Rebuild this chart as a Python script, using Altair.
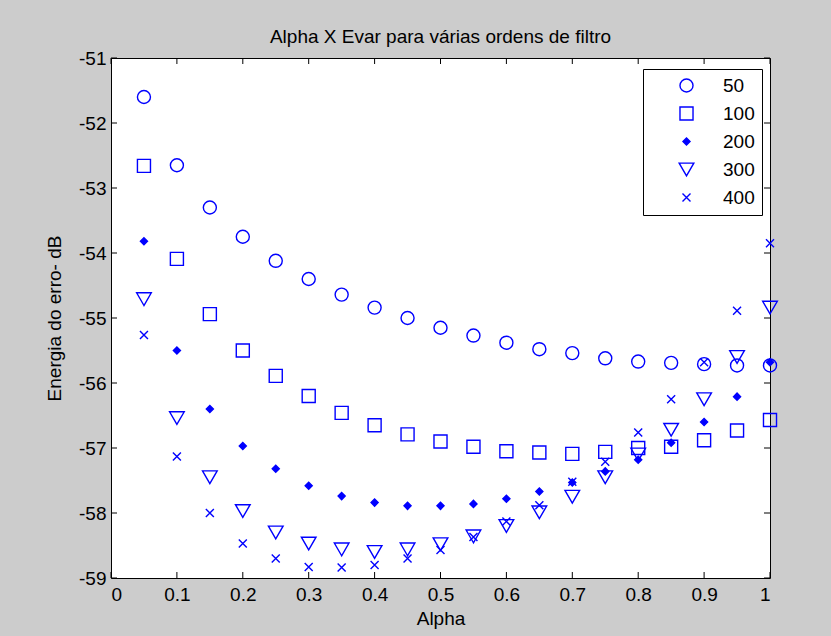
import altair as alt
import pandas as pd

alpha = [0.05, 0.10, 0.15, 0.20, 0.25, 0.30, 0.35, 0.40, 0.45, 0.50,
         0.55, 0.60, 0.65, 0.70, 0.75, 0.80, 0.85, 0.90, 0.95, 1.00]

ordens = ["50", "100", "200", "300", "400"]

e50 = [-51.60, -52.65, -53.30, -53.75, -54.12, -54.40, -54.64, -54.84, -55.00, -55.15,
       -55.27, -55.38, -55.48, -55.54, -55.62, -55.67, -55.69, -55.71, -55.73, -55.73]
e100 = [-52.66, -54.09, -54.94, -55.50, -55.89, -56.20, -56.46, -56.65, -56.79, -56.90,
        -56.98, -57.05, -57.07, -57.09, -57.06, -57.00, -56.98, -56.88, -56.73, -56.57]
e200 = [-53.82, -55.50, -56.40, -56.97, -57.32, -57.58, -57.74, -57.84, -57.89, -57.89,
        -57.86, -57.78, -57.67, -57.53, -57.36, -57.18, -56.92, -56.60, -56.21, -55.68]
e300 = [-54.71, -56.54, -57.45, -57.97, -58.30, -58.47, -58.56, -58.60, -58.56, -58.48,
        -58.36, -58.20, -57.99, -57.75, -57.45, -57.10, -56.72, -56.25, -55.60, -54.84]
e400 = [-55.26, -57.13, -58.00, -58.47, -58.70, -58.83, -58.84, -58.80, -58.70, -58.57,
        -58.37, -58.13, -57.88, -57.52, -57.21, -56.76, -56.25, -55.68, -54.89, -53.85]

x_ticks = [0, 0.1, 0.2, 0.3, 0.4, 0.5, 0.6, 0.7, 0.8, 0.9, 1]
y_ticks = [-59, -58, -57, -56, -55, -54, -53, -52, -51]

series = [e50, e100, e200, e300, e400]
rows = []
for ordem, vals in zip(ordens, series):
    for a, v in zip(alpha, vals):
        rows.append({"alpha": a, "erro": v, "ordem": ordem})
df = pd.DataFrame(rows)
dfx = pd.DataFrame({"t": x_ticks})
dfy = pd.DataFrame({"t": y_ticks})

W, H = 659, 520
BLUE = "#0000ff"
FONT = "Liberation Sans"
FS = 19

xscale = alt.Scale(domain=[0, 1], nice=False, zero=False)
yscale = alt.Scale(domain=[-59, -51], nice=False, zero=False)

xpath = "M-1,-1L1,1M-1,1L1,-1"

points = alt.Chart(df).mark_point(filled=False, strokeWidth=1.4, opacity=1).encode(
    x=alt.X("alpha:Q", scale=xscale,
            axis=alt.Axis(values=x_ticks, format="~g", title="Alpha", grid=False,
                          domain=False, ticks=False, labelPadding=7, titlePadding=5,
                          labelFontSize=FS, titleFontSize=FS, labelFont=FONT, titleFont=FONT,
                          titleFontWeight="normal", labelColor="black", titleColor="black")),
    y=alt.Y("erro:Q", scale=yscale,
            axis=alt.Axis(values=y_ticks, labelExpr="datum.value + ''", title="Energia do erro- dB",
                          grid=False, domain=False, ticks=False, labelPadding=5, titlePadding=14,
                          labelFontSize=FS, titleFontSize=FS, labelFont=FONT, titleFont=FONT,
                          titleFontWeight="normal", labelColor="black", titleColor="black")),
    shape=alt.Shape("ordem:N", scale=alt.Scale(domain=ordens,
                    range=["circle", "square", "diamond", "triangle-down", xpath]),
                    legend=alt.Legend(title=None)),
    size=alt.Size("ordem:N", scale=alt.Scale(type="ordinal", domain=ordens,
                  range=[170, 170, 50, 215, 64]),
                  legend=alt.Legend(title=None)),
    fill=alt.Fill("ordem:N", scale=alt.Scale(domain=ordens,
                  range=["transparent", "transparent", BLUE, "transparent", "transparent"]),
                  legend=alt.Legend(title=None)),
    stroke=alt.Stroke("ordem:N", scale=alt.Scale(domain=ordens, range=[BLUE] * 5),
                      legend=alt.Legend(title=None)),
)

tick_enc_x = dict(x=alt.X("t:Q", scale=xscale))
tick_enc_y = dict(y=alt.Y("t:Q", scale=yscale))

xt_bottom = alt.Chart(dfx).mark_rule(color="black", strokeWidth=1).encode(
    y=alt.value(H), y2=alt.value(H - 6), **tick_enc_x)
xt_top = alt.Chart(dfx).mark_rule(color="black", strokeWidth=1).encode(
    y=alt.value(0), y2=alt.value(6), **tick_enc_x)
yt_left = alt.Chart(dfy).mark_rule(color="black", strokeWidth=1).encode(
    x=alt.value(0), x2=alt.value(6), **tick_enc_y)
yt_right = alt.Chart(dfy).mark_rule(color="black", strokeWidth=1).encode(
    x=alt.value(W), x2=alt.value(W - 6), **tick_enc_y)

chart = alt.layer(points, xt_bottom, xt_top, yt_left, yt_right).properties(
    width=W, height=H,
    title=alt.TitleParams("Alpha X Evar para várias ordens de filtro", font=FONT, fontSize=FS,
                          fontWeight="normal", color="black", offset=2),
    background="#cccccc",
    padding={"left": 111, "top": 58, "right": 61, "bottom": 58},
    autosize=alt.AutoSizeParams(type="none"),
).configure_view(
    fill="white", stroke="black", strokeWidth=1
).configure_legend(
    orient="none", legendX=532, legendY=11,
    fillColor="white", strokeColor="black", padding=7, cornerRadius=0,
    labelFont=FONT, labelFontSize=FS, labelColor="black",
    symbolStrokeWidth=1.4, symbolOffset=27, labelOffset=27,
    rowPadding=8
)

chart.save("out.html", embed_options={"renderer": "svg", "actions": False})
